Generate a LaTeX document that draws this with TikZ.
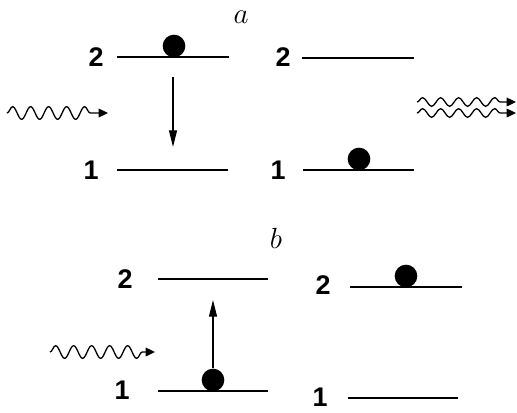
\documentclass[tikz,border=0pt]{standalone}
\usepackage{fontspec}
\setsansfont{Liberation Sans}
\usetikzlibrary{arrows.meta, decorations.pathmorphing, positioning}

\tikzset{
  lvl/.style={line width=2.2pt},
  electron/.style={circle, fill=black, inner sep=0pt, minimum size=0.68cm},
  lbl/.style={font=\sffamily\bfseries\fontsize{23}{26}\selectfont},
  tag/.style={font=\fontsize{24}{26}\selectfont},
  jump/.style={-{Triangle[length=5mm,width=2.4mm]}, line width=1pt},
  photon/.style={-{Triangle[length=2.8mm,width=2.6mm]}, line width=1.1pt,
    decorate, decoration={snake, amplitude=0.19cm, segment length=0.54cm, post length=0.3cm}},
  photon2/.style={photon, decoration={amplitude=0.13cm, segment length=0.54cm}}
}

\begin{document}
\begin{tikzpicture}[x=0.03cm, y=-0.03cm]
    \useasboundingbox (0,0) rectangle (517,412);

    % --- a: phat xa cam ung ---
    \node[tag] (ta) at (241,17) {$a$};
    % muc nang luong ben trai
    \coordinate (a2L) at (117,57);  \coordinate (a2R) at (229,57);
    \coordinate (a1L) at (117,170); \coordinate (a1R) at (228,170);
    \draw[lvl] (a2L) -- (a2R);
    \draw[lvl] (a1L) -- (a1R);
    \node[lbl] (na2) at (96,57) {2};
    \node[lbl] (na1) at (91,170) {1};
    \node[electron] (ea) at (174,46) {};
    \coordinate (da1) at (173,77); \coordinate (da2) at (173,147);
    \draw[jump] (da1) -- (da2);
    % photon toi
    \coordinate (pa1) at (7,113); \coordinate (pa2) at (108,113);
    \draw[photon] (pa1) -- (pa2);

    % muc nang luong ben phai
    \coordinate (c2L) at (302,58);  \coordinate (c2R) at (414,58);
    \coordinate (c1L) at (303,170); \coordinate (c1R) at (414,170);
    \draw[lvl] (c2L) -- (c2R);
    \draw[lvl] (c1L) -- (c1R);
    \node[lbl] (nc2) at (283,57) {2};
    \node[lbl] (nc1) at (278,170) {1};
    \node[electron] (ec) at (359,159) {};
    % hai photon di ra
    \coordinate (q1) at (417,102); \coordinate (q2) at (516,102);
    \coordinate (q3) at (417,113); \coordinate (q4) at (516,113);
    \draw[photon2] (q1) -- (q2);
    \draw[photon2] (q3) -- (q4);

    % --- b: hap thu ---
    \node[tag] (tb) at (276,238) {$b$};
    \coordinate (b2L) at (158,279); \coordinate (b2R) at (268,279);
    \coordinate (b1L) at (158,391); \coordinate (b1R) at (268,391);
    \draw[lvl] (b2L) -- (b2R);
    \draw[lvl] (b1L) -- (b1R);
    \node[lbl] (nb2) at (125,279) {2};
    \node[lbl] (nb1) at (122,390) {1};
    \node[electron] (eb) at (213,380) {};
    \coordinate (ub) at (213,300);
    \draw[jump] (eb.north) -- (ub);
    \coordinate (pb1) at (50,352); \coordinate (pb2) at (155,352);
    \draw[photon] (pb1) -- (pb2);

    \coordinate (d2L) at (350,287); \coordinate (d2R) at (462,287);
    \coordinate (d1L) at (348,398); \coordinate (d1R) at (458,398);
    \draw[lvl] (d2L) -- (d2R);
    \draw[lvl] (d1L) -- (d1R);
    \node[lbl] (nd2) at (323,285) {2};
    \node[lbl] (nd1) at (320,397) {1};
    \node[electron] (ed) at (406,276) {};
\end{tikzpicture}
\end{document}
